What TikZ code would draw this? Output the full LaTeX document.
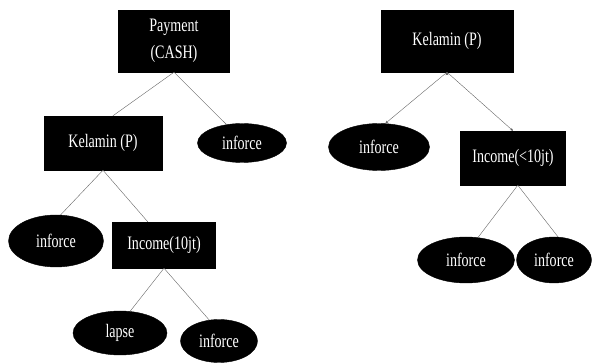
\documentclass[tikz,border=0pt]{standalone}
\usepackage{fontspec}
\setmainfont{Liberation Serif}[FakeStretch=0.74]
\usetikzlibrary{positioning, arrows.meta, shapes}
\tikzset{
  > = {Stealth[length = 3pt, width = 2.6pt]},
  split/.style n args = {2}{draw, fill = black, text = white, inner sep = 0pt,
    align = center, minimum width = #1, minimum height = #2},
  leaf/.style n args = {2}{split = {#1}{#2}, ellipse},
  branch/.style = {draw = black!60, line width = 0.4pt},
  arrowbranch/.style = {branch, ->}
}

\begin{document}
\begin{tikzpicture}[x = 1pt, y = -1pt, font = \fontsize{19}{27}\selectfont]
\useasboundingbox (0,0) rectangle (592,363);

% left tree
\node [split = {111pt}{62pt}] (pay) at (174,41) {Payment\\(CASH)};
\node [split = {118pt}{54pt}] (kel1) at (103,143) {Kelamin (P)};
\node [leaf = {89pt}{39pt}] (inf1) at (242,143) {inforce};
\node [leaf = {95pt}{52pt}] (inf2) at (56,241) {inforce};
\node [split = {103pt}{46pt}] (inc1) at (164,245) {Income(10jt)};
\node [leaf = {94pt}{44pt}] (lapse) at (120,333) {lapse};
\node [leaf = {77pt}{43pt}] (inf3) at (219,341) {inforce};

\path [branch] (pay.south) -- (kel1.70);
\path [branch] (pay.south) -- (inf1.130);
\path [branch] (kel1.south) -- (inf2.80);
\path [branch] (kel1.south) -- (inc1.125);
\path [branch] (inc1.south) -- (lapse.65);
\path [branch] (inc1.south) -- (inf3.115);

% right tree
\node [split = {132pt}{62pt}] (kel2) at (447,41) {Kelamin (P)};
\node [leaf = {101pt}{47pt}] (inf4) at (379,147) {inforce};
\node [split = {105pt}{54pt}] (inc2) at (513,158) {Income(<10jt)};
\node [leaf = {97pt}{46pt}] (inf5) at (466,260) {inforce};
\node [leaf = {75pt}{46pt}] (inf6) at (554,260) {inforce};

\path [arrowbranch] (kel2.south) edge (inf4.75);
\path [arrowbranch] (kel2.south) edge (inc2.north);
\path [branch] (inc2.-80) -- (inf5.62);
\path [branch] (inc2.-80) -- (inf6.80);

\end{tikzpicture}
\end{document}
